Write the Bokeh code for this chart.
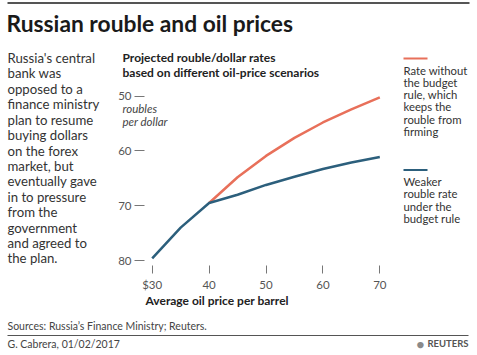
from bokeh.plotting import figure
from bokeh.models import Range1d, FixedTicker, Label, BoxAnnotation
from bokeh.embed import file_html
from bokeh.resources import INLINE

# ---- data ----
oil_price = [30, 35, 40, 45, 50, 55, 60, 65, 70]
rate_budget_rule = [79.6, 74.0, 69.5, 68.0, 66.2, 64.7, 63.3, 62.1, 61.1]
oil_price_no_rule = [40, 45, 50, 55, 60, 65, 70]
rate_no_rule = [69.5, 64.8, 60.9, 57.6, 54.8, 52.4, 50.2]
x_ticks = [30, 40, 50, 60, 70]
x_tick_labels = ["$30", "40", "50", "60", "70"]
y_ticks = [50, 60, 70, 80]

RED = "#e8705a"
BLUE = "#2c5f7c"
TXT = "#333333"
FONT = "Lato"

W, H = 477, 355
# pixel scale of the chart (frame covers the whole canvas)
PX_X = 5.69      # px per dollar
PX_Y = 5.477     # px per rouble
X0 = 30 - 151.7 / PX_X
Y0 = 50 - 95.7 / PX_Y

p = figure(width=W, height=H, output_backend="svg", toolbar_location=None,
           x_range=Range1d(X0, X0 + W / PX_X), y_range=Range1d(Y0 + H / PX_Y, Y0),
           min_border=0)
p.outline_line_color = None
p.xgrid.visible = False
p.ygrid.visible = False
p.background_fill_color = "white"
p.border_fill_color = "white"

for ax in (p.xaxis[0], p.yaxis[0]):
    ax.axis_line_color = None
    ax.major_tick_line_color = "#777777"
    ax.major_tick_in = 0
    ax.minor_tick_line_color = None
    ax.major_label_text_font = FONT
    ax.major_label_text_font_size = "11.5px"
    ax.major_label_text_color = "#555555"

p.xaxis.ticker = FixedTicker(ticks=x_ticks)
p.xaxis.major_label_overrides = {t: l for t, l in zip(x_ticks, x_tick_labels)}
p.xaxis.major_tick_out = 8
p.xaxis.major_label_standoff = 4
p.xaxis.fixed_location = Y0 + 265 / PX_Y
p.yaxis.ticker = FixedTicker(ticks=y_ticks)
p.yaxis.major_tick_out = 10
p.yaxis.major_label_standoff = 3
p.yaxis.fixed_location = X0 + 144 / PX_X

p.line(oil_price_no_rule, rate_no_rule, line_color=RED, line_width=2.5, line_join="round")
p.line(oil_price, rate_budget_rule, line_color=BLUE, line_width=2.5, line_join="round")


def lab(text, cx, cy, size, style="normal", color=TXT, align="left"):
    p.add_layout(Label(x=cx, y=H - cy, x_units="screen", y_units="screen",
                       text=text, text_font=FONT, text_font_size=f"{size}px",
                       text_font_style=style, text_color=color,
                       text_align=align, text_baseline="middle"))


def rule(x0, x1, y0, y1, color):
    p.add_layout(BoxAnnotation(left=x0, right=x1, top=H - y0, bottom=H - y1,
                               left_units="screen", right_units="screen",
                               top_units="screen", bottom_units="screen",
                               fill_color=color, fill_alpha=1, line_color=None))


rule(7, 469, 1.5, 3.5, "#555555")
lab("Russian rouble and oil prices", 6, 22, 22.8, "bold", "#1a1a1a")

body = ["Russia's central", "bank was", "opposed to a", "finance ministry",
        "plan to resume", "buying dollars", "on the forex", "market, but",
        "eventually gave", "in to pressure", "from the", "government",
        "and agreed to", "the plan."]
for i, t in enumerate(body):
    lab(t, 7, 57.5 + i * 15.42, 13.2, "normal", TXT)

lab("Projected rouble/dollar rates", 122, 56.7, 12, "bold", "#222222")
lab("based on different oil-price scenarios", 122, 71.7, 12, "bold", "#222222")
lab("roubles", 122, 108, 11.5, "italic", "#444444")
lab("per dollar", 122, 121, 11.5, "italic", "#444444")

rule(403, 427, 57, 59, RED)
for i, t in enumerate(["Rate without", "the budget", "rule, which", "keeps the",
                       "rouble from", "firming"]):
    lab(t, 403, 69.5 + i * 12.3, 11.3, "normal", "#333333")
rule(403, 427, 168.5, 170.5, BLUE)
for i, t in enumerate(["Weaker", "rouble rate", "under the", "budget rule"]):
    lab(t, 403, 180.7 + i * 12.5, 11.3, "normal", "#333333")

lab("Average oil price per barrel", 145, 300, 12, "bold", "#222222")

lab("Sources: Russia\u2019s Finance Ministry; Reuters.", 7, 325, 10.5, "normal", "#444444")
rule(7, 468, 334.5, 335.5, "#555555")
lab("G. Cabrera,  01/02/2017", 7, 343, 10.5, "normal", "#444444")
lab("REUTERS", 468, 343, 9.5, "bold", "#555555", "right")
lab("\u25cf", 420, 343, 13, "normal", "#8a8a8a", "center")

open("out.html", "w").write(file_html(p, INLINE))
